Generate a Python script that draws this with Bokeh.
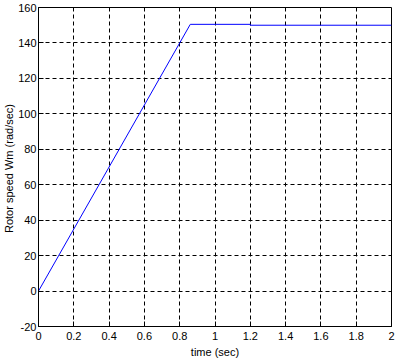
from bokeh.plotting import figure
from bokeh.models import Range1d, FixedTicker
from bokeh.embed import file_html
from bokeh.resources import INLINE

# data
time_sec = [0.0, 0.86, 1.2, 1.2, 2.0]
rotor_speed = [0.0, 150.5, 150.5, 150.0, 150.0]
x_ticks = [0, 0.2, 0.4, 0.6, 0.8, 1.0, 1.2, 1.4, 1.6, 1.8, 2.0]
x_tick_labels = ["0", "0.2", "0.4", "0.6", "0.8", "1", "1.2", "1.4", "1.6", "1.8", "2"]
y_ticks = [-20, 0, 20, 40, 60, 80, 100, 120, 140, 160]
y_tick_labels = [str(v) for v in y_ticks]

FONT = "Liberation Sans"

p = figure(width=400, height=360, output_backend="svg", toolbar_location=None,
           x_range=Range1d(0, 2), y_range=Range1d(-20, 160),
           min_border_left=36, min_border_right=9, min_border_top=7, min_border_bottom=34)

p.line(time_sec, rotor_speed, line_color="#0000ff", line_width=1)

p.background_fill_color = "white"
p.border_fill_color = "white"
p.outline_line_color = "black"
p.outline_line_width = 1
p.outline_line_alpha = 1

for ax, ticks, labels in ((p.xaxis[0], x_ticks, x_tick_labels), (p.yaxis[0], y_ticks, y_tick_labels)):
    ax.ticker = FixedTicker(ticks=ticks)
    ax.major_label_overrides = {t: l for t, l in zip(ticks, labels)}
    ax.major_tick_in = 5
    ax.major_tick_out = 0
    ax.minor_tick_line_color = None
    ax.axis_line_color = "black"
    ax.major_tick_line_color = "black"
    ax.major_label_text_font = FONT
    ax.major_label_text_font_size = "11px"
    ax.major_label_text_color = "black"
    ax.axis_label_text_font = FONT
    ax.axis_label_text_font_size = "11px"
    ax.axis_label_text_font_style = "normal"
    ax.axis_label_text_color = "black"

p.xaxis.axis_label = "time (sec)"
p.yaxis.axis_label = "Rotor speed Wm  (rad/sec)"
p.xaxis.major_label_standoff = 5
p.yaxis.major_label_standoff = 2
p.xaxis.axis_label_standoff = 3
p.yaxis.axis_label_standoff = 0

for g, ticks in ((p.xgrid[0], x_ticks), (p.ygrid[0], y_ticks)):
    g.ticker = FixedTicker(ticks=ticks)
    g.grid_line_color = "black"
    g.grid_line_dash = "4 3"
    g.grid_line_width = 1

open("out.html", "w").write(file_html(p, INLINE))
